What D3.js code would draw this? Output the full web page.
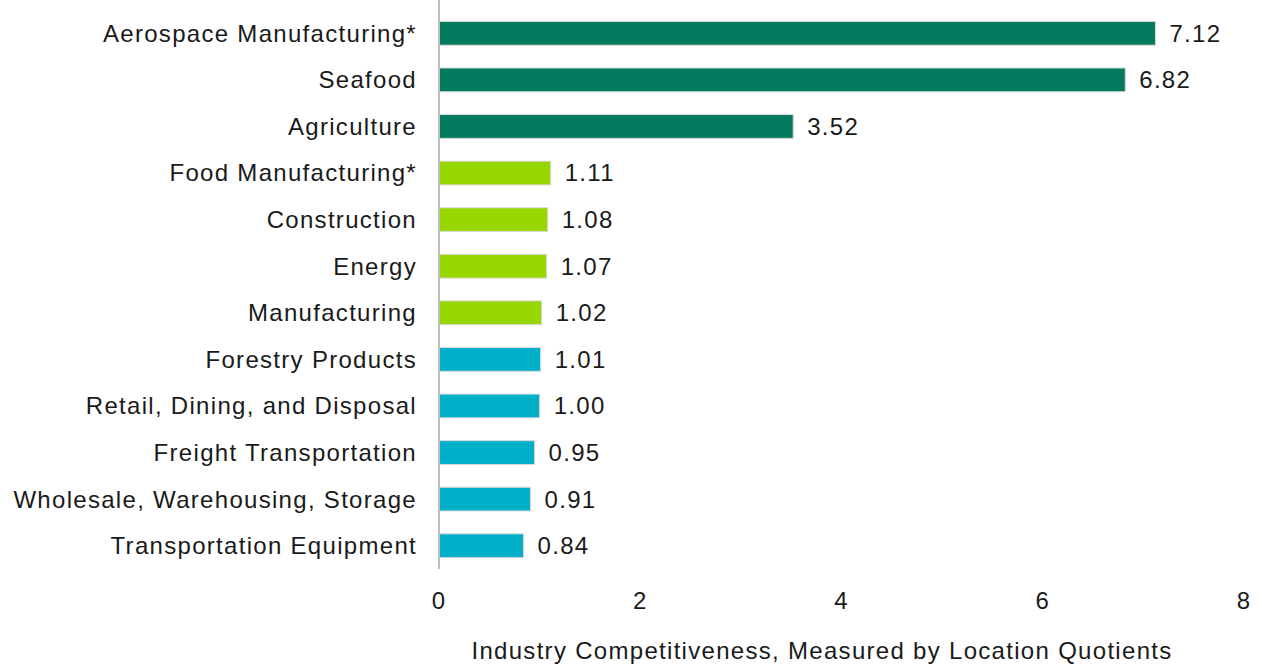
<!DOCTYPE html>
<html>
<head>
<meta charset="utf-8">
<script src="https://cdn.jsdelivr.net/npm/d3@7"></script>
<style>
  body { margin: 0; background: #fff; }
  text { font-family: "Liberation Sans", Arial, sans-serif; fill: #1a1a1a; font-size: 24px; letter-spacing: 1.3px; }
</style>
</head>
<body>
<svg id="chart" width="1262" height="665"></svg>
<script>
var industries = ["Aerospace Manufacturing*", "Seafood", "Agriculture", "Food Manufacturing*",
    "Construction", "Energy", "Manufacturing", "Forestry Products",
    "Retail, Dining, and Disposal", "Freight Transportation",
    "Wholesale, Warehousing, Storage", "Transportation Equipment"];
var quotients = [7.12, 6.82, 3.52, 1.11, 1.08, 1.07, 1.02, 1.01, 1.00, 0.95, 0.91, 0.84];
var groups = ["high", "high", "high", "mid", "mid", "mid", "mid", "low", "low", "low", "low", "low"];
var xTicks = [0, 2, 4, 6, 8];
var axisTitle = "Industry Competitiveness, Measured by Location Quotients";

var colors = { high: "#027a5e", mid: "#98d600", low: "#00afc8" };

var svg = d3.select("#chart");
var plotLeft = 439, plotRight = 1244, plotTop = 10, plotBottom = 569;

var x = d3.scaleLinear().domain([0, 8]).range([plotLeft, plotRight]);
var y = d3.scaleBand().domain(industries).range([plotTop, plotBottom]).paddingInner(0.49).paddingOuter(0.245);

var data = industries.map(function(d, i){ return {name: d, v: quotients[i], g: groups[i]}; });

svg.selectAll("rect.bar").data(data).enter()
    .append("rect")
    .attr("class", "bar")
    .attr("x", x(0))
    .attr("y", function(d){ return y(d.name); })
    .attr("width", function(d){ return x(d.v) - x(0); })
    .attr("height", y.bandwidth())
    .style("fill", function(d){ return colors[d.g]; })
    .style("stroke", "#d9d9d9")
    .style("stroke-width", 1);

// value labels
svg.selectAll("text.val").data(data).enter()
    .append("text")
    .attr("class", "val")
    .attr("x", function(d){ return x(d.v) + 14; })
    .attr("y", function(d){ return y(d.name) + y.bandwidth() / 2; })
    .attr("dy", "0.35em")
    .text(function(d){ return d.v.toFixed(2); });

// category labels
svg.selectAll("text.cat").data(data).enter()
    .append("text")
    .attr("class", "cat")
    .attr("x", 417)
    .attr("y", function(d){ return y(d.name) + y.bandwidth() / 2; })
    .attr("dy", "0.35em")
    .attr("text-anchor", "end")
    .text(function(d){ return d.name; });

// vertical axis line
svg.append("line")
    .attr("x1", x(0)).attr("x2", x(0))
    .attr("y1", 0).attr("y2", plotBottom)
    .style("stroke", "#bfbfbf")
    .style("stroke-width", 2);

// x tick labels
svg.selectAll("text.tick").data(xTicks).enter()
    .append("text")
    .attr("class", "tick")
    .attr("x", function(d){ return x(d); })
    .attr("y", 601)
    .attr("dy", "0.35em")
    .attr("text-anchor", "middle")
    .text(function(d){ return d; });

svg.append("text")
    .attr("x", 822)
    .attr("y", 651)
    .attr("dy", "0.35em")
    .attr("text-anchor", "middle")
    .text(axisTitle);
</script>
</body>
</html>
